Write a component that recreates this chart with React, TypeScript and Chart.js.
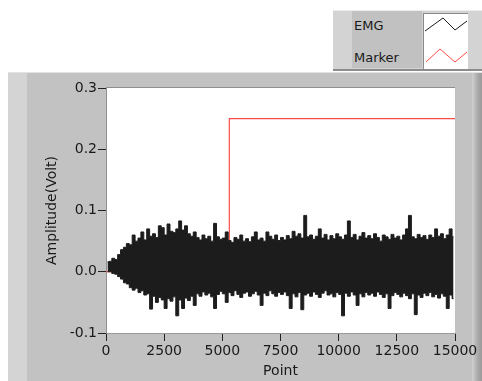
import React, { useEffect, useRef } from 'react';
import { Chart, registerables } from 'chart.js';

Chart.register(...registerables);

// ---- data ----
const X_TICKS = [0, 2500, 5000, 7500, 10000, 12500, 15000];
const Y_TICKS = [-0.1, 0.0, 0.1, 0.2, 0.3];
const X_TITLE = 'Point';
const Y_TITLE = 'Amplitude(Volt)';
const SERIES_NAMES = ['EMG', 'Marker'];

// EMG envelope: per bin of BIN_SIZE points, the highest and lowest sample value (Volt)
const BIN_SIZE = 125;
const EMG_HIGH = [
  0.016, 0.017, 0.022, 0.020, 0.028, 0.036, 0.040, 0.046, 0.044, 0.060,
  0.050, 0.055, 0.065, 0.052, 0.070, 0.058, 0.062, 0.056, 0.075, 0.072,
  0.060, 0.078, 0.066, 0.064, 0.070, 0.083, 0.068, 0.075, 0.062, 0.058,
  0.065, 0.056, 0.052, 0.060, 0.054, 0.058, 0.050, 0.079, 0.057, 0.053,
  0.055, 0.065, 0.051, 0.048, 0.056, 0.053, 0.060, 0.050, 0.054, 0.049,
  0.057, 0.065, 0.052, 0.055, 0.050, 0.065, 0.058, 0.053, 0.060, 0.051,
  0.056, 0.052, 0.059, 0.054, 0.066, 0.058, 0.062, 0.055, 0.092, 0.057,
  0.060, 0.053, 0.058, 0.070, 0.055, 0.061, 0.052, 0.059, 0.054, 0.062,
  0.057, 0.053, 0.060, 0.083, 0.056, 0.061, 0.052, 0.058, 0.064, 0.055,
  0.059, 0.054, 0.062, 0.056, 0.050, 0.060, 0.057, 0.053, 0.061, 0.055,
  0.058, 0.052, 0.060, 0.070, 0.092, 0.057, 0.054, 0.061, 0.056, 0.059,
  0.053, 0.060, 0.056, 0.070, 0.058, 0.062, 0.054, 0.060, 0.070, 0.057,
];
const EMG_LOW = [
  0.000, 0.000, -0.003, -0.004, -0.008, -0.012, -0.018, -0.020, -0.026, -0.030,
  -0.027, -0.034, -0.031, -0.038, -0.036, -0.061, -0.040, -0.050, -0.042, -0.046,
  -0.060, -0.044, -0.048, -0.041, -0.072, -0.046, -0.060, -0.043, -0.047, -0.040,
  -0.055, -0.036, -0.040, -0.033, -0.038, -0.035, -0.041, -0.060, -0.037, -0.032,
  -0.036, -0.050, -0.034, -0.039, -0.031, -0.037, -0.042, -0.035, -0.033, -0.040,
  -0.036, -0.032, -0.038, -0.055, -0.035, -0.039, -0.031, -0.036, -0.040, -0.034,
  -0.037, -0.033, -0.039, -0.060, -0.036, -0.041, -0.034, -0.062, -0.038, -0.035,
  -0.040, -0.033, -0.037, -0.042, -0.035, -0.031, -0.038, -0.036, -0.041, -0.034,
  -0.037, -0.072, -0.035, -0.040, -0.033, -0.038, -0.055, -0.036, -0.041, -0.034,
  -0.038, -0.035, -0.040, -0.033, -0.037, -0.042, -0.036, -0.060, -0.039, -0.034,
  -0.037, -0.041, -0.035, -0.039, -0.044, -0.036, -0.070, -0.038, -0.042, -0.035,
  -0.039, -0.034, -0.041, -0.037, -0.043, -0.036, -0.040, -0.060, -0.038, -0.044,
];

// Marker: step from 0 V to 0.25 V
const MARKER_X = [0, 5300, 5300, 15000];
const MARKER_Y = [0, 0, 0.25, 0.25];

const FONT = "'DejaVu Sans', 'Liberation Sans', sans-serif";
const EMG_COLOR = '#1c1c1c';
const MARKER_COLOR = '#ff4a4a';

const envelope = (vals: number[]) =>
  vals.map((y, i) => ({ x: i * BIN_SIZE + BIN_SIZE / 2, y }));

const plotBg = {
  id: 'plotBg',
  beforeDraw(chart: any) {
    const { ctx, chartArea: a } = chart;
    ctx.save();
    ctx.fillStyle = '#ffffff';
    ctx.fillRect(a.left, a.top, a.right - a.left, a.bottom - a.top);
    ctx.strokeStyle = '#8f8f8f';
    ctx.lineWidth = 1;
    ctx.beginPath();
    ctx.moveTo(a.left, a.top - 0.5);
    ctx.lineTo(a.right, a.top - 0.5);
    ctx.stroke();
    ctx.restore();
  },
};

function GraphCanvas() {
  const ref = useRef<HTMLCanvasElement | null>(null);
  useEffect(() => {
    if (!ref.current) return;
    const chart = new Chart(ref.current, {
      type: 'line',
      data: {
        datasets: [
          {
            label: SERIES_NAMES[0],
            data: envelope(EMG_HIGH),
            borderColor: EMG_COLOR,
            backgroundColor: EMG_COLOR,
            borderWidth: 1,
            pointRadius: 0,
            stepped: 'middle',
            fill: '+1',
            order: 0,
          },
          {
            label: SERIES_NAMES[0] + ' (low)',
            data: envelope(EMG_LOW),
            borderColor: EMG_COLOR,
            backgroundColor: EMG_COLOR,
            borderWidth: 1,
            pointRadius: 0,
            stepped: 'middle',
            fill: false,
            order: 1,
          },
          {
            label: SERIES_NAMES[1],
            data: MARKER_X.map((x, i) => ({ x, y: MARKER_Y[i] })),
            borderColor: MARKER_COLOR,
            borderWidth: 1.2,
            pointRadius: 0,
            tension: 0,
            fill: false,
            order: 2,
          },
        ],
      },
      options: {
        animation: false,
        responsive: false,
        maintainAspectRatio: false,
        layout: { padding: { top: 16, right: 27, left: 0, bottom: 0 } },
        plugins: { legend: { display: false }, tooltip: { enabled: false } },
        scales: {
          x: {
            type: 'linear',
            min: X_TICKS[0],
            max: X_TICKS[X_TICKS.length - 1],
            afterBuildTicks: (s: any) => {
              s.ticks = X_TICKS.map((v) => ({ value: v }));
            },
            afterFit: (s: any) => {
              s.height = 48;
              s.paddingLeft = 0;
              s.paddingRight = 0;
            },
            grid: { drawOnChartArea: false, drawTicks: true, tickLength: 8, color: '#222', tickColor: '#222' },
            border: { display: true, color: '#9a9a9a' },
            ticks: {
              color: '#1a1a1a',
              font: { family: FONT, size: 14 },
              padding: 2,
              maxRotation: 0,
              autoSkip: false,
              callback: (v: any) => String(v),
            },
            title: {
              display: true,
              text: X_TITLE,
              color: '#1a1a1a',
              font: { family: FONT, size: 14 },
              padding: { top: 0, bottom: 1 },
            },
          },
          y: {
            type: 'linear',
            min: Y_TICKS[0],
            max: Y_TICKS[Y_TICKS.length - 1],
            afterBuildTicks: (s: any) => {
              s.ticks = Y_TICKS.map((v) => ({ value: v }));
            },
            afterFit: (s: any) => {
              s.width = 98;
              s.paddingTop = 0;
              s.paddingBottom = 0;
            },
            grid: { drawOnChartArea: false, drawTicks: true, tickLength: 8, color: '#222', tickColor: '#222' },
            border: { display: true, color: '#8f8f8f' },
            ticks: {
              color: '#1a1a1a',
              font: { family: FONT, size: 14 },
              padding: 1,
              autoSkip: false,
              callback: (v: any) => Number(v).toFixed(1),
            },
            title: {
              display: true,
              text: Y_TITLE,
              color: '#1a1a1a',
              font: { family: FONT, size: 14 },
              padding: { top: 36, bottom: 0 },
            },
          },
        },
      },
      plugins: [plotBg],
    } as any);
    return () => chart.destroy();
  }, []);
  return (
    <canvas
      ref={ref}
      width={474}
      height={309}
      style={{ position: 'absolute', left: 8, top: 72, width: 474, height: 309 }}
    />
  );
}

export default function App() {
  const abs = (o: any): React.CSSProperties => ({ position: 'absolute', ...o });
  return (
    <div style={abs({ position: 'fixed', left: 0, top: 0, width: 482, height: 381, background: '#ffffff', overflow: 'hidden', fontFamily: FONT })}>
      {/* legend */}
      <div style={abs({ left: 333, top: 10, width: 149, height: 60, background: '#d3d3d3', borderTop: '1px solid #ececec' })} />
      <div style={abs({ left: 352, top: 11, width: 70, height: 57, background: '#c1c1c1' })} />
      <div style={abs({ left: 333, top: 69, width: 149, height: 2, background: '#8c8c8c' })} />
      <div style={abs({ left: 354, top: 18, fontSize: 13, color: '#1a1a1a', lineHeight: '16px' })}>{SERIES_NAMES[0]}</div>
      <div style={abs({ left: 354, top: 50, fontSize: 13, color: '#1a1a1a', lineHeight: '16px' })}>{SERIES_NAMES[1]}</div>
      <svg style={abs({ left: 423, top: 13, width: 45, height: 56, background: '#ffffff', boxShadow: 'inset 1px 1px 0 #8a8a8a' })} width={45} height={56}>
        <polyline points="2,18 20,5 32,17 44,8" fill="none" stroke={EMG_COLOR} strokeWidth={1} />
        <polyline points="3,49 17,36 32,49 44,39" fill="none" stroke={MARKER_COLOR} strokeWidth={1} />
      </svg>
      {/* graph panel */}
      <div style={abs({ left: 8, top: 72, width: 474, height: 309, background: '#c2c2c2', borderTop: '1px solid #e2e2e2', boxSizing: 'border-box' })} />
      <div style={abs({ left: 8, top: 73, width: 19, height: 308, background: '#d4d4d4' })} />
      <div style={abs({ left: 472, top: 73, width: 10, height: 308, background: 'linear-gradient(to right, #d0d0d0, #a8a8a8 60%, #9a9a9a)' })} />
      <GraphCanvas />
    </div>
  );
}
